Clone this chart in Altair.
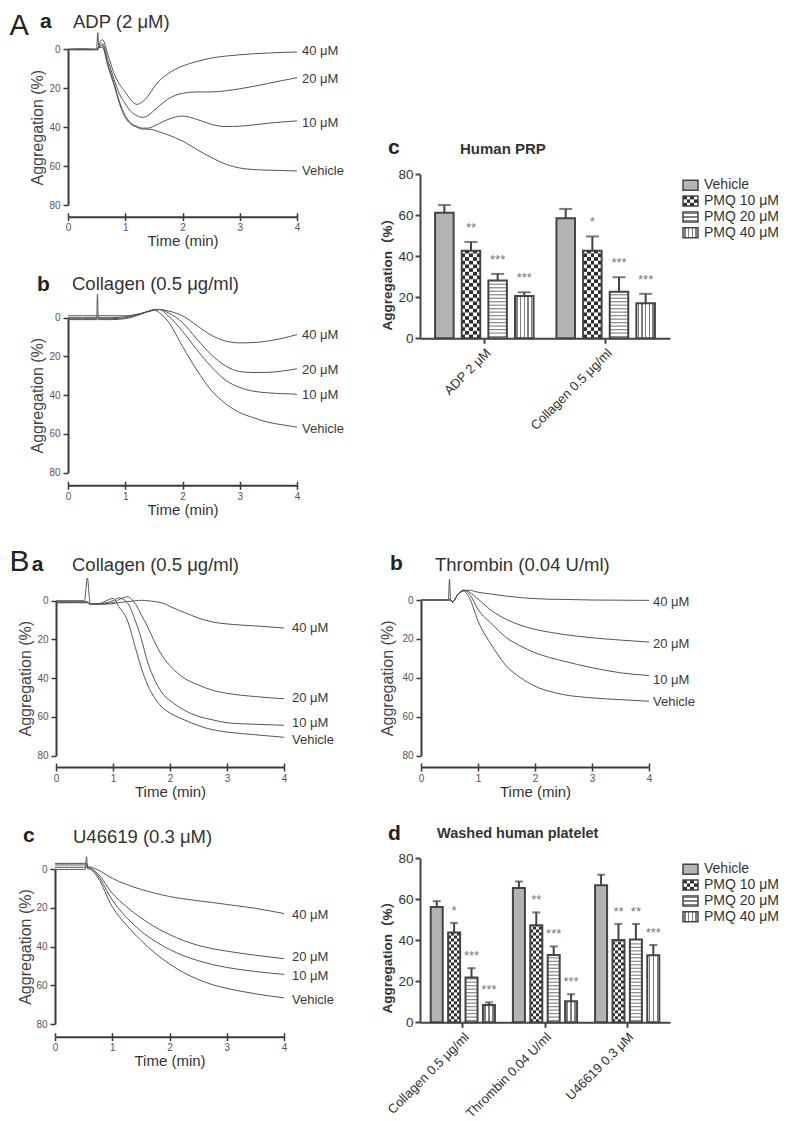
import altair as alt
import pandas as pd

FONT = "Liberation Sans, Arial, Helvetica, sans-serif"
W, H = 771, 1113

# ---------------- data: aggregation traces ----------------
LINE_SERIES = ["40 μM", "20 μM", "10 μM", "Vehicle"]

# A-a ADP (2 μM)
ADP_T = [0, 0.25, 0.5, 0.52, 0.54, 0.6, 0.7, 0.8, 0.9, 1.0, 1.1, 1.2, 1.3, 1.4, 1.5, 1.6, 1.75, 2.0, 2.25, 2.5, 2.75, 3.0, 3.25, 3.5, 3.75, 4.0]
ADP_40 = [0, 0, 0, 0, -2, -5, 3, 12, 18, 22, 26, 28.3, 27, 24, 19.5, 16, 12.5, 8.6, 6.3, 4.5, 3.5, 2.8, 2.3, 1.9, 1.6, 1.4]
ADP_20 = [0, 0, 0, 0, -1, -3, 6, 15, 23, 28, 32, 34, 35, 34, 31.5, 29, 25.5, 22.6, 21.9, 21.9, 21.3, 20.3, 19, 17.5, 16, 14.6]
ADP_10 = [0.3, 0.3, 0.3, 0.3, -1, -2, 8, 17, 27, 34, 38, 39.5, 40.5, 40.5, 39.5, 38, 36, 34.3, 36, 38.5, 39.7, 39.5, 38.8, 38, 37.3, 36.8]
ADP_VEH = [0, -0.3, 0, -8.6, -1, -1, 9, 18, 28, 35, 38.5, 40, 41, 41, 41.5, 42.5, 44, 47.1, 51.5, 55.5, 59, 61, 61.8, 62.1, 62.3, 62.5]
ADP_LAB = [1.0, 15.4, 37.7, 62.5]

# A-b Collagen (0.5 μg/ml), PRP
COL_T = [0, 0.25, 0.5, 0.515, 0.53, 0.75, 1.0, 1.25, 1.5, 1.6, 1.75, 2.0, 2.25, 2.5, 2.75, 3.0, 3.25, 3.5, 3.75, 4.0]
COL_40 = [-1, -1, -1, -1, -1, -1, -1, -2, -3.8, -4.2, -3.5, -1, 4, 9, 12, 13, 12.8, 12, 10.6, 8.7]
COL_20 = [0, 0, 0, 0, 0, 0, -0.5, -2, -4, -4.3, -2.6, 2.6, 11, 19, 24.8, 27.8, 28.3, 28.2, 27.5, 26.4]
COL_10 = [0.5, 0.5, 0.5, 0.5, 0.5, 0.5, 0, -1.8, -4, -4.2, -1, 7, 16.5, 25.2, 32.2, 36, 38, 38.8, 39.2, 39.5]
COL_VEH = [1, 1, 1, -12.2, 1, 1, 0.5, -1.5, -4, -2.5, 2, 14.8, 27, 37.4, 44.3, 49, 51.7, 54, 55.3, 56.5]
COL_LAB = [8.7, 27, 40, 57.4]

# B-a Collagen (0.5 μg/ml), washed platelets
COLB_T = [0, 0.25, 0.5, 0.55, 0.6, 0.75, 1.0, 1.1, 1.25, 1.4, 1.5, 1.6, 1.75, 1.9, 2.0, 2.25, 2.5, 2.75, 3.0, 3.5, 4.0]
COLB_40 = [1, 1, 1, 1, 1.8, 1.8, 1.5, 1, 0.5, 0, -0.2, 0, 0.5, 1.5, 3, 6, 9, 11, 12, 13, 14.1]
COLB_20 = [1, 1, 1, 1, 1.8, 1.8, 1, -0.5, -2, 2, 7.5, 13, 22.5, 30, 33.5, 40, 43.5, 46.3, 47.8, 49.5, 50.6]
COLB_10 = [0.5, 0.5, 0.5, 0.5, 1.5, 1.5, 0, -1.5, 1, 11, 20, 31, 42, 49, 51.5, 56.5, 59.7, 61.5, 63, 63.8, 64.3]
COLB_VEH = [0, 0, 0, -11.7, 1.5, 1.5, -1.2, 3, 10, 25, 35, 43, 51, 56, 58, 61.5, 64.5, 66.6, 67.8, 69.2, 70.5]
COLB_LAB = [14.1, 50.2, 63.1, 71.7]

# B-b Thrombin (0.04 U/ml)
THR_T = [0, 0.25, 0.48, 0.5, 0.52, 0.55, 0.65, 0.75, 0.85, 1.0, 1.25, 1.5, 1.75, 2.0, 2.25, 2.5, 3.0, 3.5, 4.0]
THR_40 = [0, 0, 0, 0, 0, 1, -3, -5, -5, -4, -3, -2, -1.2, -0.7, -0.4, -0.3, 0, 0.1, 0.2]
THR_20 = [0, 0, 0, 0, 0, 1, -3, -5, -4, -0.5, 5.7, 10, 13, 15.1, 16.5, 17.7, 19.4, 20.6, 21.6]
THR_10 = [0, 0, 0, 0, 0, 1, -3, -5, -3, 4.8, 12.5, 19.4, 23.7, 27.1, 29.5, 31.4, 34.8, 37.4, 38.8]
THR_VEH = [0, 0, 0, -10.6, 0, 1, -3, -4.5, -1, 10.8, 23.7, 34, 40, 44.3, 46.9, 48.6, 50.3, 51.2, 52]
THR_LAB = [1, 22.8, 40.9, 52.5]

# B-c U46619 (0.3 μM)
U_T = [0, 0.25, 0.5, 0.53, 0.55, 0.57, 0.6, 0.75, 1.0, 1.25, 1.5, 1.75, 2.0, 2.25, 2.5, 2.75, 3.0, 3.5, 4.0]
U_40 = [-2.9, -2.9, -2.9, -2.9, -2.9, -1, -1, 0.5, 4.8, 8, 10.5, 12.5, 14.2, 15.4, 16.4, 17.3, 18.3, 20.3, 23]
U_20 = [-2.1, -2.1, -2.1, -2.1, -2.1, -1, -0.8, 2.5, 12.5, 19.5, 25.2, 30, 33.8, 37, 39.4, 41.1, 42.4, 44.5, 46.3]
U_10 = [-0.9, -0.9, -0.9, -0.9, -0.9, -0.8, -0.5, 3.5, 16, 25, 32, 37.3, 41.5, 44.8, 47.3, 49.3, 50.8, 52.9, 54.4]
U_VEH = [0.2, 0.2, 0.2, 0.2, -6.4, 0, 0, 4.5, 19.5, 29, 36.8, 43.5, 49, 53.5, 57, 59.7, 61.6, 64.4, 66.5]
U_LAB = [23.8, 45.4, 55, 67.5]

# ---------------- data: bar charts ----------------
BAR_SERIES = ["Vehicle", "PMQ 10 μM", "PMQ 20 μM", "PMQ 40 μM"]

PRP_GROUPS = ["ADP 2 μM", "Collagen 0.5 μg/ml"]
PRP_VEH = [61.2, 58.6]
PRP_10 = [42.7, 42.7]
PRP_20 = [28.2, 22.7]
PRP_40 = [20.6, 17.1]
PRP_VEH_ERR = [3.8, 4.5]
PRP_10_ERR = [4.3, 7.0]
PRP_20_ERR = [3.2, 7.1]
PRP_40_ERR = [1.9, 4.6]
PRP_STARS = [["", ""], ["**", "*"], ["***", "***"], ["***", "***"]]

WASH_GROUPS = ["Collagen 0.5 μg/ml", "Thrombin 0.04 U/ml", "U46619 0.3 μM"]
WASH_VEH = [56.3, 65.5, 66.8]
WASH_10 = [43.8, 47.3, 40.2]
WASH_20 = [21.9, 32.8, 40.4]
WASH_40 = [8.4, 10.3, 32.7]
WASH_VEH_ERR = [2.8, 3.2, 5.2]
WASH_10_ERR = [4.7, 6.3, 7.8]
WASH_20_ERR = [4.5, 4.2, 7.6]
WASH_40_ERR = [1.3, 3.4, 5.0]
WASH_STARS = [["", "", ""], ["*", "**", "**"], ["***", "***", "**"], ["***", "***", "***"]]

# ---------------- styling helpers ----------------
AX = "#3a3a3a"
LINE_COLOR = "#555555"
VEH_FILL = "#b4b4b4"
DUMMY = pd.DataFrame({"k": [0]})


def grad(stops, horizontal=True):
    g = {"gradient": "linear",
         "stops": [{"offset": round(o, 4), "color": c} for o, c in stops]}
    if horizontal:
        g.update(x1=0, y1=0, x2=1, y2=0)
    else:
        g.update(x1=0, y1=0, x2=0, y2=1)
    return g


def checker_grad(n, dark_first, dark="#2e2e2e", light="#ffffff"):
    stops = []
    for k in range(n):
        c = dark if (k % 2 == 0) == dark_first else light
        stops += [(k / n, c), ((k + 1) / n, c)]
    return grad(stops)


def stripe_grad(n, frac, color="#7a7a7a", bg="#ffffff", horizontal=True):
    stops = [(0, bg)]
    for k in range(n):
        c = (k + 0.5) / n
        a, b = c - frac / 2, c + frac / 2
        stops += [(a, bg), (a, color), (b, color), (b, bg)]
    stops.append((1, bg))
    return grad(stops, horizontal)


def line_panel(times, curves, label_vals, x0, x1, y0, y80, axis_y, label_dx, ytitle_pad):
    recs = []
    for name, vals in zip(LINE_SERIES, curves):
        for t, v in zip(times, vals):
            recs.append({"t": t, "v": v, "s": name})
    df = pd.DataFrame(recs)
    lab = pd.DataFrame({"s": LINE_SERIES, "t": [times[-1]] * 4, "v": label_vals})
    xs = alt.Scale(domain=[0, 4], range=[x0, x1], nice=False, zero=False)
    ys = alt.Scale(domain=[0, 80], range=[y0, y80], nice=False, zero=False)
    x_main = alt.Axis(orient="bottom", offset=axis_y - H, values=[0, 1, 2, 3, 4], format="d",
                      domainColor=AX, domainWidth=2, tickColor=AX, tickWidth=1.5, tickSize=4,
                      labelFontSize=10, labelColor="#555", labelFont=FONT, labelPadding=2,
                      labelFlush=False, labelOverlap=False, grid=False,
                      title="Time (min)", titleFont=FONT, titleFontSize=15, titleFontWeight="normal",
                      titleColor="#333", titleY=24, titleBaseline="middle")
    x_sec = alt.Axis(orient="bottom", offset=axis_y - 4 - H, values=[0, 1, 2, 3, 4],
                     domain=False, labels=False, tickColor=AX, tickWidth=1.5, tickSize=4,
                     grid=False, title=None)
    y_ax = alt.Axis(orient="left", offset=-x0, values=[0, 20, 40, 60, 80],
                    domainColor=AX, domainWidth=2, tickColor=AX, tickWidth=1.5, tickSize=5,
                    labelFontSize=10, labelColor="#555", labelFont=FONT, labelPadding=3,
                    grid=False,
                    title="Aggregation (%)", titleFont=FONT, titleFontSize=16,
                    titleFontWeight="normal", titleColor="#444", titlePadding=ytitle_pad)
    Y = alt.Y("v:Q", scale=ys, axis=y_ax)
    lines = alt.Chart(df).mark_line(interpolate="monotone", strokeWidth=1, color=LINE_COLOR).encode(
        x=alt.X("t:Q", scale=xs, axis=x_main),
        y=Y,
        detail="s:N",
    )
    labels = alt.Chart(lab).mark_text(align="left", baseline="middle", dx=label_dx, fontSize=13,
                                      font=FONT, color="#3a3a3a").encode(
        x=alt.X("t:Q", scale=xs, axis=x_sec),
        y=Y,
        text="s:N",
    )
    return alt.layer(lines, labels).resolve_axis(x="independent")


def pattern_rows(recs, series, step, thick=None):
    out = []
    for r in recs:
        if r["s"] != series:
            continue
        m = r["m"]
        if thick is None:
            k = 1
            while k * step < m - 0.05:
                out.append({"g": r["g"], "s": series, "m": round(k * step, 3),
                            "hi": round(min((k + 1) * step, m), 3)})
                k += 2
        else:
            k = 0
            while (k + 0.5) * step + thick / 2 < m - 0.2:
                c = (k + 0.5) * step
                out.append({"g": r["g"], "s": series, "m": round(c - thick / 2, 3),
                            "hi": round(c + thick / 2, 3)})
                k += 1
    return pd.DataFrame(out)


def bar_panel(groups, vals, errs, stars, x0, x1, y0, y80, pad_outer, off_pi, off_po,
              ncols, cell, n_vlines, vfrac, cap_w, star_dy, ytitle_y):
    recs = []
    for si, s in enumerate(BAR_SERIES):
        for gi, g in enumerate(groups):
            recs.append({"g": g, "s": s, "m": vals[si][gi], "e": errs[si][gi], "st": stars[si][gi]})
    df = pd.DataFrame(recs)
    check_df = pattern_rows(recs, "PMQ 10 μM", cell)
    stripe_df = pattern_rows(recs, "PMQ 20 μM", 1.7, 0.6)

    x_ax = alt.Axis(orient="bottom", offset=y0 - H, domainColor="#444", domainWidth=2,
                    tickColor="#444", tickWidth=2, tickSize=5, labelAngle=-45, labelFontSize=13,
                    labelColor="#333", labelFont=FONT, labelPadding=3, grid=False, title=None)
    y_ax = alt.Axis(orient="left", offset=-x0, values=[0, 20, 40, 60, 80], domainColor="#444",
                    domainWidth=2, tickColor="#444", tickWidth=2, tickSize=5, labelFontSize=13.5,
                    labelColor="#333", labelFont=FONT, labelPadding=2, grid=False,
                    title="Aggregation（%）",
                    titleFont="Liberation Sans Narrow, Liberation Sans, Noto Sans CJK SC",
                    titleFontSize=13.5, titleFontWeight="bold", titleColor="#333", titlePadding=3,
                    titleY=ytitle_y)
    X = alt.X("g:N", sort=groups, axis=x_ax,
              scale=alt.Scale(domain=groups, range=[x0, x1], paddingInner=0, paddingOuter=pad_outer))
    XO = alt.XOffset("s:N", sort=BAR_SERIES,
                     scale=alt.Scale(domain=BAR_SERIES, paddingInner=off_pi, paddingOuter=off_po))
    ys = alt.Scale(domain=[0, 80], range=[y0, y80], nice=False)
    Y = alt.Y("m:Q", scale=ys, axis=y_ax)
    base = alt.Chart(df)

    fills = {
        "Vehicle": VEH_FILL,
        "PMQ 10 μM": checker_grad(ncols, True),
        "PMQ 20 μM": "#ffffff",
        "PMQ 40 μM": stripe_grad(n_vlines, vfrac, "#808080"),
    }
    layers = []
    for s in BAR_SERIES:
        layers.append(base.transform_filter(alt.datum.s == s).mark_bar(fill=fills[s], strokeWidth=0)
                      .encode(x=X, xOffset=XO, y=Y))
    layers.append(alt.Chart(check_df).mark_bar(fill=checker_grad(ncols, False), strokeWidth=0).encode(
        x=X, xOffset=XO, y=Y, y2="hi:Q"))
    layers.append(alt.Chart(stripe_df).mark_bar(fill="#8a8a8a", strokeWidth=0).encode(
        x=X, xOffset=XO, y=Y, y2="hi:Q"))
    layers.append(base.mark_bar(fill="#ffffff", fillOpacity=0, stroke="#444", strokeWidth=2)
                  .encode(x=X, xOffset=XO, y=Y))
    errbase = base.transform_calculate(top="datum.m + datum.e")
    layers.append(errbase.mark_rule(color="#444", strokeWidth=2).encode(
        x=X, xOffset=XO, y=Y, y2="top:Q"))
    capbase = base.transform_calculate(m="datum.m + datum.e")
    layers.append(capbase.mark_tick(orient="horizontal", size=cap_w, thickness=2, color="#444").encode(
        x=X, xOffset=XO, y=Y))
    layers.append(capbase.mark_text(align="center", baseline="alphabetic", dy=star_dy, fontSize=13,
                                    font=FONT, color="#777").encode(
        x=X, xOffset=XO, y=Y, text="st:N"))
    return alt.layer(*layers)


def legend_panel(r0, r1, xs, xt):
    df = pd.DataFrame({"s": BAR_SERIES})
    Y = alt.Y("s:N", sort=BAR_SERIES, axis=None,
              scale=alt.Scale(domain=BAR_SERIES, range=[r0, r1], paddingInner=0.367, paddingOuter=0.1835))
    base = alt.Chart(df)

    def sw(s, fill, **kw):
        return base.transform_filter(alt.datum.s == s).mark_bar(fill=fill, strokeWidth=0, **kw).encode(
            y=Y, x=alt.value(xs), x2=alt.value(xs + 15))

    return alt.layer(
        sw("Vehicle", VEH_FILL),
        sw("PMQ 10 μM", checker_grad(4, True)),
        sw("PMQ 10 μM", checker_grad(4, False), height={"band": 0.34}),
        sw("PMQ 20 μM", stripe_grad(3, 0.14, "#808080", horizontal=False)),
        sw("PMQ 40 μM", stripe_grad(4, 0.09, "#808080")),
        base.mark_bar(fill="#ffffff", fillOpacity=0, stroke="#444", strokeWidth=1.5).encode(
            y=Y, x=alt.value(xs), x2=alt.value(xs + 15)),
        base.mark_text(align="left", baseline="middle", fontSize=14, font=FONT, color="#333").encode(
            y=Y, x=alt.value(xt), text="s:N"),
    )


def note(txt, x, y, size, weight="normal", color="#222"):
    return alt.Chart(DUMMY).mark_text(text=txt, align="left", baseline="alphabetic", fontSize=size,
                                      fontWeight=weight, font=FONT, color=color).encode(
        x=alt.value(x), y=alt.value(y))


panels = [
    line_panel(ADP_T, [ADP_40, ADP_20, ADP_10, ADP_VEH], ADP_LAB, 60, 289, 41.3, 197, 208.7, 5, 3),
    line_panel(COL_T, [COL_40, COL_20, COL_10, COL_VEH], COL_LAB, 60, 289, 309.7, 464.7, 477.3, 5, 3),
    line_panel(COLB_T, [COLB_40, COLB_20, COLB_10, COLB_VEH], COLB_LAB, 48, 276, 592.7, 747.7, 759, 8, 3),
    line_panel(THR_T, [THR_40, THR_20, THR_10, THR_VEH], THR_LAB, 413, 641, 592, 747.7, 759, 4, 6),
    line_panel(U_T, [U_40, U_20, U_10, U_VEH], U_LAB, 47, 276, 861, 1016, 1028.7, 8, 2),
    bar_panel(PRP_GROUPS, [PRP_VEH, PRP_10, PRP_20, PRP_40],
              [PRP_VEH_ERR, PRP_10_ERR, PRP_20_ERR, PRP_40_ERR], PRP_STARS,
              412, 662, 330.3, 166.3, 0.03, 0.305, 0.43, 5, 1.8, 5, 0.07, 13, -10, 262.7),
    bar_panel(WASH_GROUPS, [WASH_VEH, WASH_10, WASH_20, WASH_40],
              [WASH_VEH_ERR, WASH_10_ERR, WASH_20_ERR, WASH_40_ERR], WASH_STARS,
              412, 662, 1014.3, 850.3, 0.021, 0.31, 0.517, 4, 1.46, 3, 0.1, 8, -8, 945.7),
    legend_panel(169.4, 232.6, 675, 696),
    legend_panel(853.4, 916.6, 675, 696),
]

notes = [
    note("A", 1.5, 27, 29),
    note("a", 32, 19.5, 21, "bold"),
    note("ADP (2 μM)", 65, 19.5, 18.5, color="#333"),
    note("b", 29, 283, 21, "bold"),
    note("Collagen (0.5 μg/ml)", 64, 282.4, 18.5, color="#333"),
    note("c", 380, 146, 21, "bold"),
    note("Human PRP", 452, 146.4, 15, "bold", "#333"),
    note("B", 1.5, 563.3, 30),
    note("a", 23.7, 563.3, 21, "bold"),
    note("Collagen (0.5 μg/ml)", 64, 563, 18.5, color="#333"),
    note("b", 382, 562, 21, "bold"),
    note("Thrombin (0.04 U/ml)", 427, 563, 18.5, color="#333"),
    note("c", 15, 834, 21, "bold"),
    note("U46619 (0.3 μM)", 65, 834.7, 18.5, color="#333"),
    note("d", 380, 832, 21, "bold"),
    note("Washed human platelet", 429, 830.2, 14.5, "bold", "#333"),
]

chart = alt.layer(*panels, *notes).resolve_scale(
    x="independent", y="independent", xOffset="independent"
).properties(width=W, height=H, padding=0, autosize="none").configure_view(strokeWidth=0)

chart.save("out.html", embed_options={"renderer": "svg", "actions": False})
